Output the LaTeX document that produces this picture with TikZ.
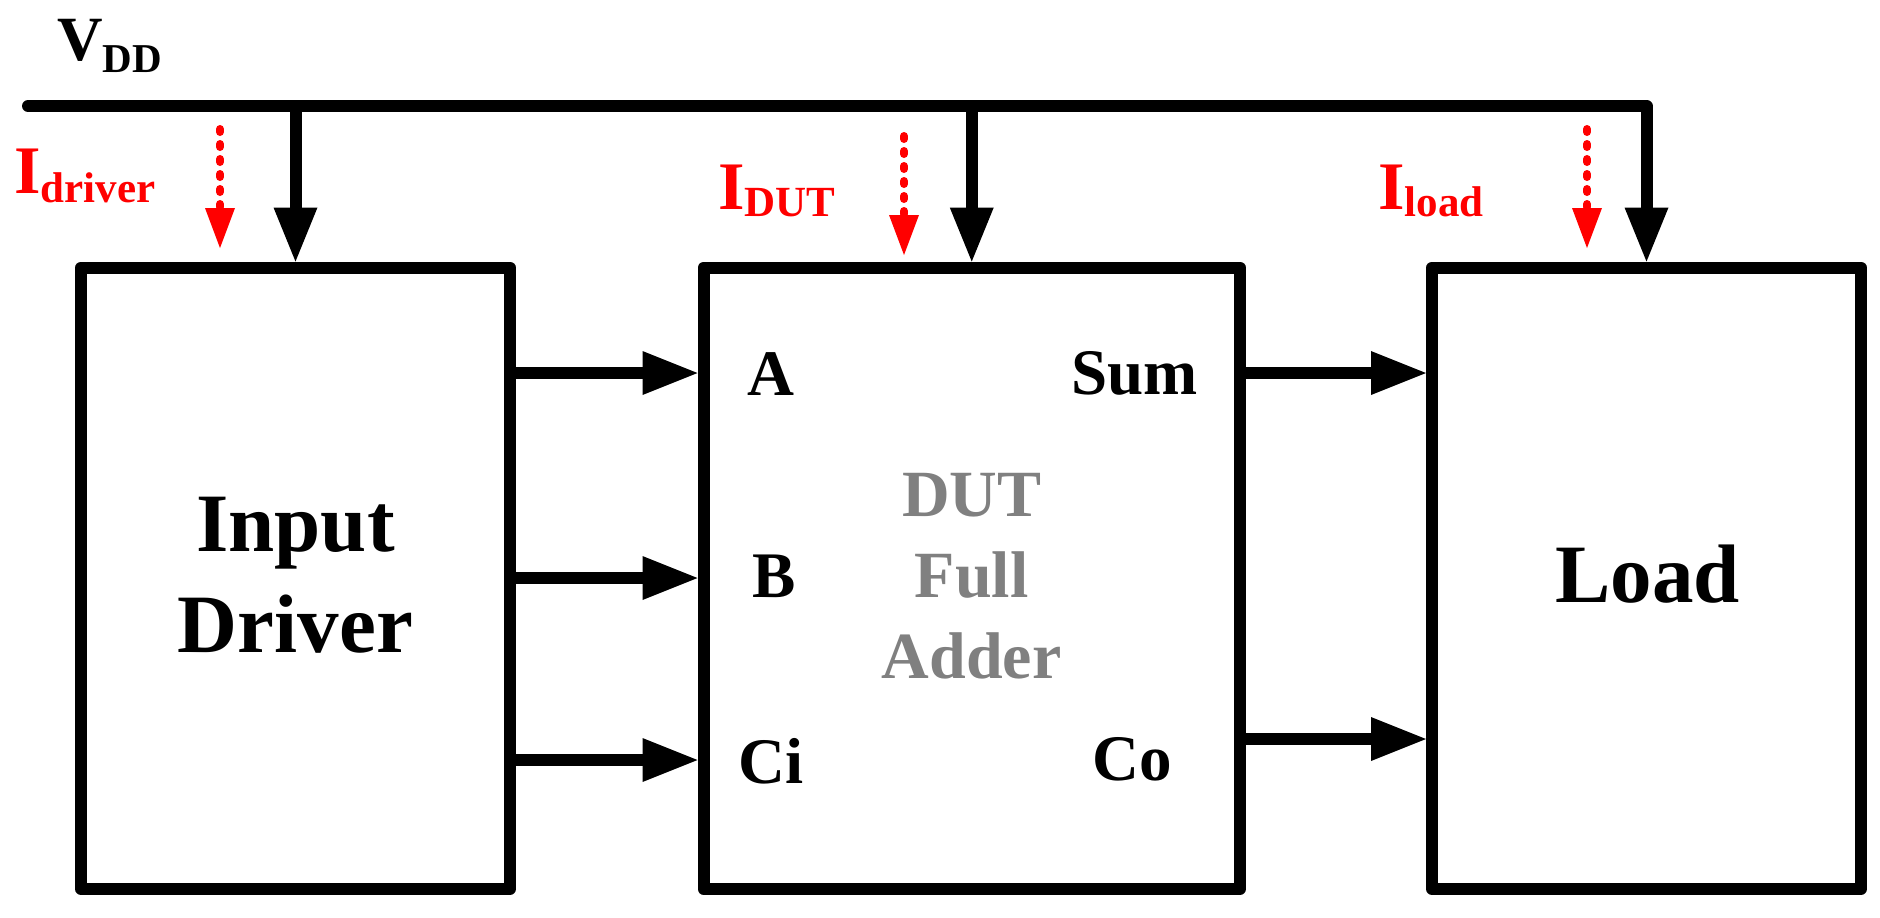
\documentclass[tikz,border=0pt]{standalone}
\usepackage{fontspec}
\setmainfont{Liberation Serif}
\usetikzlibrary{arrows.meta}
\definecolor{curred}{RGB}{255,0,0}
\definecolor{dutgray}{RGB}{128,128,128}
\tikzset{
  blockbox/.style={draw=black, line width=6pt, line join=round, minimum height=310.75pt, inner sep=0pt},
  pw/.style={line width=6pt, line cap=round, line join=round, -{Triangle[length=27pt,width=22pt,line width=0pt]}},
  sig/.style={line width=6.3pt, -{Triangle[length=27.5pt,width=22pt,line width=0pt]}},
  cur/.style={draw=curred, line width=4pt, line cap=round, dash pattern=on 1.5pt off 6pt, -{Triangle[length=20pt,width=15pt,line width=0pt]}},
  bigtxt/.style={font=\fontsize{41.5}{50.5}\selectfont\bfseries, inner sep=0pt, align=center},
  duttxt/.style={font=\fontsize{33}{40.5}\selectfont\bfseries, text=dutgray, inner sep=0pt, align=center},
  port/.style={font=\fontsize{32.5}{39}\selectfont\bfseries, inner sep=0pt, anchor=base west},
  curlbl/.style={font=\fontsize{34}{40}\selectfont\bfseries, text=curred, inner sep=0pt, anchor=base west},
  vddlbl/.style={font=\fontsize{31.5}{38}\selectfont\bfseries, inner sep=0pt, anchor=base west}
}
\begin{document}
\begin{tikzpicture}[x=0.5pt, y=-0.5pt]
\useasboundingbox (0,0) rectangle (1880,917);
\fill[white] (0,0) rectangle (1880,917);

% blocks
\node[blockbox, minimum width=214.5pt] (drv) at (295.5,578.25) {};
\node[blockbox, minimum width=268.25pt] (dut) at (971.75,578.25) {};
\node[blockbox, minimum width=214.5pt] (load) at (1646.5,578.25) {};

% block texts
\node[bigtxt] (drvtxt) at (295.5,575) {Input\\Driver};
\node[duttxt] (duttxt) at (971.75,576) {DUT\\Full\\Adder};
\node[bigtxt, anchor=base] (loadtxt) at (1647.5,602) {Load};

% port labels
\node[port] (lA) at (747,395) {A};
\node[port] (lB) at (752,597) {B};
\node[port] (lCi) at (738,783) {Ci};
\node[port] (lSum) at (1071,394) {Sum};
\node[port] (lCo) at (1092,780) {Co};

% supply
\node[vddlbl] (vdd) at (57,60) {V\raisebox{-6pt}{\fontsize{20.5}{24}\selectfont DD}};
\coordinate (vs) at (28,106);
\draw[pw] (vs) -- (vs -| load.north) -- (load.north);
\draw[pw] (vs -| drv.north) -- (drv.north);
\draw[pw] (vs -| dut.north) -- (dut.north);

% current labels and arrows
\node[curlbl] (idrv) at (14,193) {I\raisebox{-4.5pt}{\fontsize{21.5}{26}\selectfont driver}};
\node[curlbl] (idut) at (718,209) {I\raisebox{-3.5pt}{\fontsize{21.5}{26}\selectfont DUT}};
\node[curlbl] (iload) at (1378,209) {I\raisebox{-3.5pt}{\fontsize{21.5}{26}\selectfont load}};
\coordinate (c1s) at (220,129);
\coordinate (c1e) at (220,248);
\coordinate (c2s) at (904,136);
\coordinate (c2e) at (904,255);
\coordinate (c3s) at (1587,129);
\coordinate (c3e) at (1587,248);
\draw[cur] (c1s) -- (c1e);
\draw[cur] (c2s) -- (c2e);
\draw[cur] (c3s) -- (c3e);

% signal rows
\coordinate (rA) at (0,373);
\coordinate (rB) at (0,578);
\coordinate (rC) at (0,760);
\coordinate (rS) at (0,373);
\coordinate (rO) at (0,739);
\draw[sig] (drv.east |- rA) -- (dut.west |- rA);
\draw[sig] (drv.east |- rB) -- (dut.west |- rB);
\draw[sig] (drv.east |- rC) -- (dut.west |- rC);
\draw[sig] (dut.east |- rS) -- (load.west |- rS);
\draw[sig] (dut.east |- rO) -- (load.west |- rO);
\end{tikzpicture}
\end{document}
